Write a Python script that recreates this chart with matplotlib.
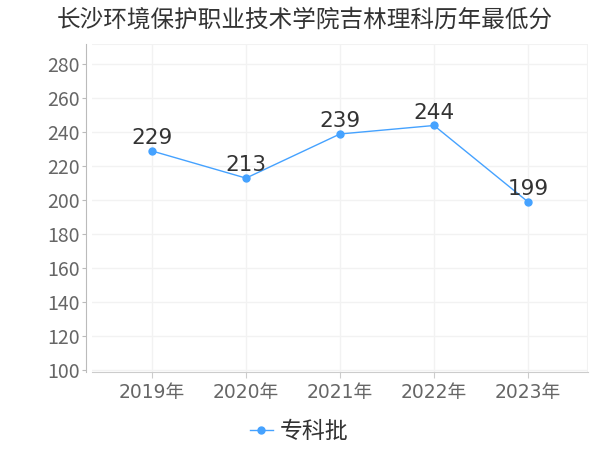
import matplotlib
matplotlib.use("Agg")
import matplotlib.pyplot as plt
from matplotlib.lines import Line2D

plt.rcParams["font.family"] = ["Noto Sans CJK SC", "DejaVu Sans"]
NUM_FONT = ["DejaVu Sans", "Noto Sans CJK SC"]

# data
title = "长沙环境保护职业技术学院吉林理科历年最低分"
years = ["2019年", "2020年", "2021年", "2022年", "2023年"]
scores = [229, 213, 239, 244, 199]
series_name = "专科批"
y_ticks = [100, 120, 140, 160, 180, 200, 220, 240, 260, 280]

LINE = "#45a2ff"
GRID = "#f2f2f2"
TEXT = "#333333"
TICK_TEXT = "#666666"

fig = plt.figure(figsize=(6, 4.5), dpi=100)
ax = fig.add_axes([92 / 600, 78 / 450, 496 / 600, 328 / 450])

x = list(range(len(years)))
ax.plot(x, scores, color=LINE, lw=1, marker="o", ms=5, zorder=3)
for xi, v in zip(x, scores):
    ax.annotate(str(v), (xi, v), xytext=(0, 2), textcoords="offset points",
                ha="center", va="bottom", fontsize=15.5, color=TEXT,
                family=NUM_FONT, zorder=4)

ax.set_xlim(-0.638, len(years) - 1 + 0.638)
ax.set_ylim(98.8, 292)
ax.set_xticks(x)
ax.set_xticklabels(years, family=NUM_FONT)
ax.set_yticks(y_ticks)
ax.set_yticklabels([str(t) for t in y_ticks], family=NUM_FONT)

# faint grid incl. top/right border
ax.grid(True, color=GRID, lw=1, zorder=0)
ax.axhline(292, color=GRID, lw=1.5, zorder=0)
ax.axvline(len(years) - 1 + 0.638, color=GRID, lw=1.5, zorder=0)

for side in ("top", "right"):
    ax.spines[side].set_visible(False)
ax.spines["left"].set_position(("outward", 4))
ax.spines["left"].set_color("#bbbbbb")
ax.spines["bottom"].set_color("#cccccc")

ax.tick_params(axis="y", length=3, color="#bbbbbb", labelsize=14,
               labelcolor=TICK_TEXT, pad=2)
ax.tick_params(axis="x", length=4, color="#cccccc", labelsize=13.5,
               labelcolor=TICK_TEXT, pad=4)

fig.text(305 / 600, 1 - 20 / 450, title, ha="center", va="center",
         fontsize=17, color=TEXT)

handle = Line2D([], [], color=LINE, lw=1, marker="o", ms=5)
fig.legend([handle], [series_name], loc="center", bbox_to_anchor=(299 / 600, 1 - 432 / 450),
           frameon=False, fontsize=16.5, handlelength=1.0, handletextpad=0.3,
           labelcolor=TEXT)

fig.savefig("out.png", dpi=100)
